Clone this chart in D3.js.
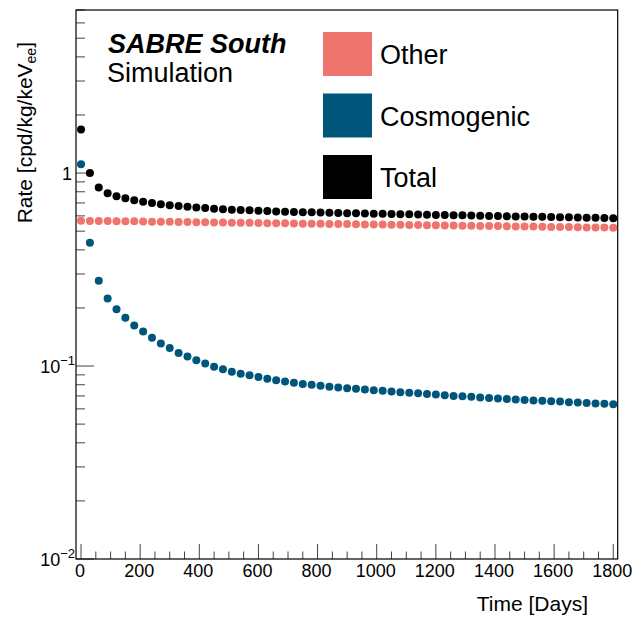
<!DOCTYPE html>
<html>
<head>
<meta charset="utf-8">
<script src="https://cdn.jsdelivr.net/npm/d3@7"></script>
<style>
  body { margin: 0; background: white; }
  text { font-family: "Liberation Sans", Arial, sans-serif; fill: black; }
</style>
</head>
<body>
<div id="viz"></div>
<script>
let w = 644;
let h = 618;

// time in days, one point every 30 days
let days = d3.range(0, 1801, 30);

let other = [0.566, 0.565, 0.565, 0.564, 0.563, 0.562, 0.562, 0.561, 0.560, 0.559, 0.559,
  0.558, 0.557, 0.556, 0.556, 0.555, 0.554, 0.553, 0.553, 0.552, 0.551,
  0.550, 0.550, 0.549, 0.548, 0.547, 0.547, 0.546, 0.545, 0.544, 0.544,
  0.543, 0.542, 0.541, 0.541, 0.540, 0.539, 0.538, 0.538, 0.537, 0.536,
  0.535, 0.535, 0.534, 0.533, 0.532, 0.532, 0.531, 0.530, 0.529, 0.529,
  0.528, 0.527, 0.526, 0.526, 0.525, 0.524, 0.523, 0.523, 0.522, 0.521];

let cosmogenic = [1.11, 0.435, 0.277, 0.224, 0.197, 0.178, 0.162, 0.151, 0.140, 0.131, 0.124,
  0.117, 0.112, 0.107, 0.103, 0.0993, 0.0961, 0.0935, 0.0913, 0.0895, 0.0877,
  0.0859, 0.0844, 0.0832, 0.0819, 0.0808, 0.0799, 0.0790, 0.0781, 0.0775, 0.0768,
  0.0762, 0.0756, 0.0750, 0.0744, 0.0738, 0.0732, 0.0727, 0.0722, 0.0717, 0.0712,
  0.0706, 0.0700, 0.0697, 0.0693, 0.0688, 0.0683, 0.0678, 0.0675, 0.0670, 0.0666,
  0.0663, 0.0660, 0.0657, 0.0654, 0.0650, 0.0647, 0.0644, 0.0640, 0.0637, 0.0633];

let total = [1.68, 1.00, 0.843, 0.786, 0.759, 0.740, 0.722, 0.710, 0.699, 0.690, 0.682,
  0.675, 0.669, 0.663, 0.659, 0.654, 0.650, 0.646, 0.644, 0.641, 0.638,
  0.636, 0.633, 0.631, 0.629, 0.627, 0.626, 0.624, 0.622, 0.621, 0.620,
  0.619, 0.617, 0.616, 0.615, 0.613, 0.612, 0.611, 0.610, 0.609, 0.607,
  0.606, 0.605, 0.604, 0.603, 0.601, 0.600, 0.599, 0.597, 0.596, 0.595,
  0.594, 0.593, 0.592, 0.591, 0.590, 0.588, 0.587, 0.586, 0.585, 0.584];

let seriesNames = ["Other", "Cosmogenic", "Total"];
let seriesColors = ["#f0746e", "#00567a", "#000000"];
let seriesValues = [other, cosmogenic, total];

let xTicks = d3.range(0, 1801, 200);
let xMinorTicks = d3.range(0, 1801, 50);
let yDecades = [0.01, 0.1, 1];
let yLabelExp = ["\u22122", "\u22121", null];

let mLeft = 76, mRight = 617.7, mTop = 10, mBottom = 559;

let viz = d3.select("#viz")
  .append("svg")
  .attr("width", w)
  .attr("height", h)
  .attr("viewBox", "0 0 " + w + " " + h);

let x = d3.scaleLinear().domain([-17, 1815]).range([mLeft, mRight]);
let y = d3.scaleLog().domain([0.01, 7]).range([mBottom, mTop]);

// minor y ticks: 2..9 of each decade
let yMinorTicks = [];
yDecades.forEach(d => {
  for (let k = 2; k <= 9; k++) {
    if (d * k <= 7) yMinorTicks.push(d * k);
  }
});

// ticks
let ticks = viz.append("g").attr("stroke", "#444").attr("stroke-width", 1);

ticks.selectAll("line.xminor")
  .data(xMinorTicks)
  .join("line")
  .attr("class", "xminor")
  .attr("x1", d => x(d))
  .attr("x2", d => x(d))
  .attr("y1", mBottom)
  .attr("y2", d => d % 200 == 0 ? mBottom - 15 : mBottom - 7.5);

ticks.selectAll("line.ymajor")
  .data(yDecades)
  .join("line")
  .attr("class", "ymajor")
  .attr("x1", mLeft)
  .attr("x2", mLeft + 18)
  .attr("y1", d => y(d))
  .attr("y2", d => y(d));

ticks.selectAll("line.yminor")
  .data(yMinorTicks)
  .join("line")
  .attr("class", "yminor")
  .attr("x1", mLeft)
  .attr("x2", mLeft + 9)
  .attr("y1", d => y(d))
  .attr("y2", d => y(d));

// frame
viz.append("rect")
  .attr("x", mLeft)
  .attr("y", mTop)
  .attr("width", mRight - mLeft)
  .attr("height", mBottom - mTop)
  .attr("fill", "none")
  .attr("stroke", "black")
  .attr("stroke-width", 1.2);

// x tick labels
viz.selectAll("text.xlab")
  .data(xTicks)
  .join("text")
  .attr("class", "xlab")
  .attr("x", d => x(d) - 1)
  .attr("y", 577)
  .attr("text-anchor", "middle")
  .attr("font-size", 18)
  .text(d => d);

// y tick labels
let ylab = viz.selectAll("text.ylab")
  .data(yDecades)
  .join("text")
  .attr("class", "ylab")
  .attr("x", (d, i) => yLabelExp[i] ? 75 : 72)
  .attr("y", d => y(d) + 7)
  .attr("text-anchor", "end")
  .attr("font-size", 18);

ylab.each(function (d, i) {
  let t = d3.select(this);
  if (yLabelExp[i]) {
    t.append("tspan").text("10");
    t.append("tspan").attr("font-size", 13).attr("dy", -8).text(yLabelExp[i]);
  } else {
    t.text("1");
  }
});

// axis titles
viz.append("text")
  .attr("x", 588)
  .attr("y", 611)
  .attr("text-anchor", "end")
  .attr("font-size", 21)
  .text("Time [Days]");

let ytitle = viz.append("text")
  .attr("transform", "translate(32, 42) rotate(-90)")
  .attr("text-anchor", "end")
  .attr("font-size", 21);
ytitle.append("tspan").text("Rate [cpd/kg/keV");
ytitle.append("tspan").attr("font-size", 14).attr("dy", 4).text("ee");
ytitle.append("tspan").attr("dy", -4).text("]");

// points
seriesValues.forEach((vals, s) => {
  viz.append("g")
    .selectAll("circle")
    .data(vals)
    .join("circle")
    .attr("cx", (d, i) => x(days[i]))
    .attr("cy", d => y(d))
    .attr("r", 4)
    .attr("fill", seriesColors[s]);
});

// labels
viz.append("text")
  .attr("x", 108)
  .attr("y", 53)
  .attr("font-size", 27)
  .attr("font-weight", "bold")
  .attr("font-style", "italic")
  .text("SABRE South");

viz.append("text")
  .attr("x", 107)
  .attr("y", 82)
  .attr("font-size", 27)
  .text("Simulation");

// legend
let legend = viz.append("g")
  .selectAll("g")
  .data(seriesNames)
  .join("g")
  .attr("transform", (d, i) => `translate(323, ${32 + i * 61.5})`);

legend.append("rect")
  .attr("width", 49)
  .attr("height", 44)
  .attr("fill", (d, i) => seriesColors[i]);

legend.append("text")
  .attr("x", 57)
  .attr("y", 32)
  .attr("font-size", 27)
  .text(d => d);
</script>
</body>
</html>
